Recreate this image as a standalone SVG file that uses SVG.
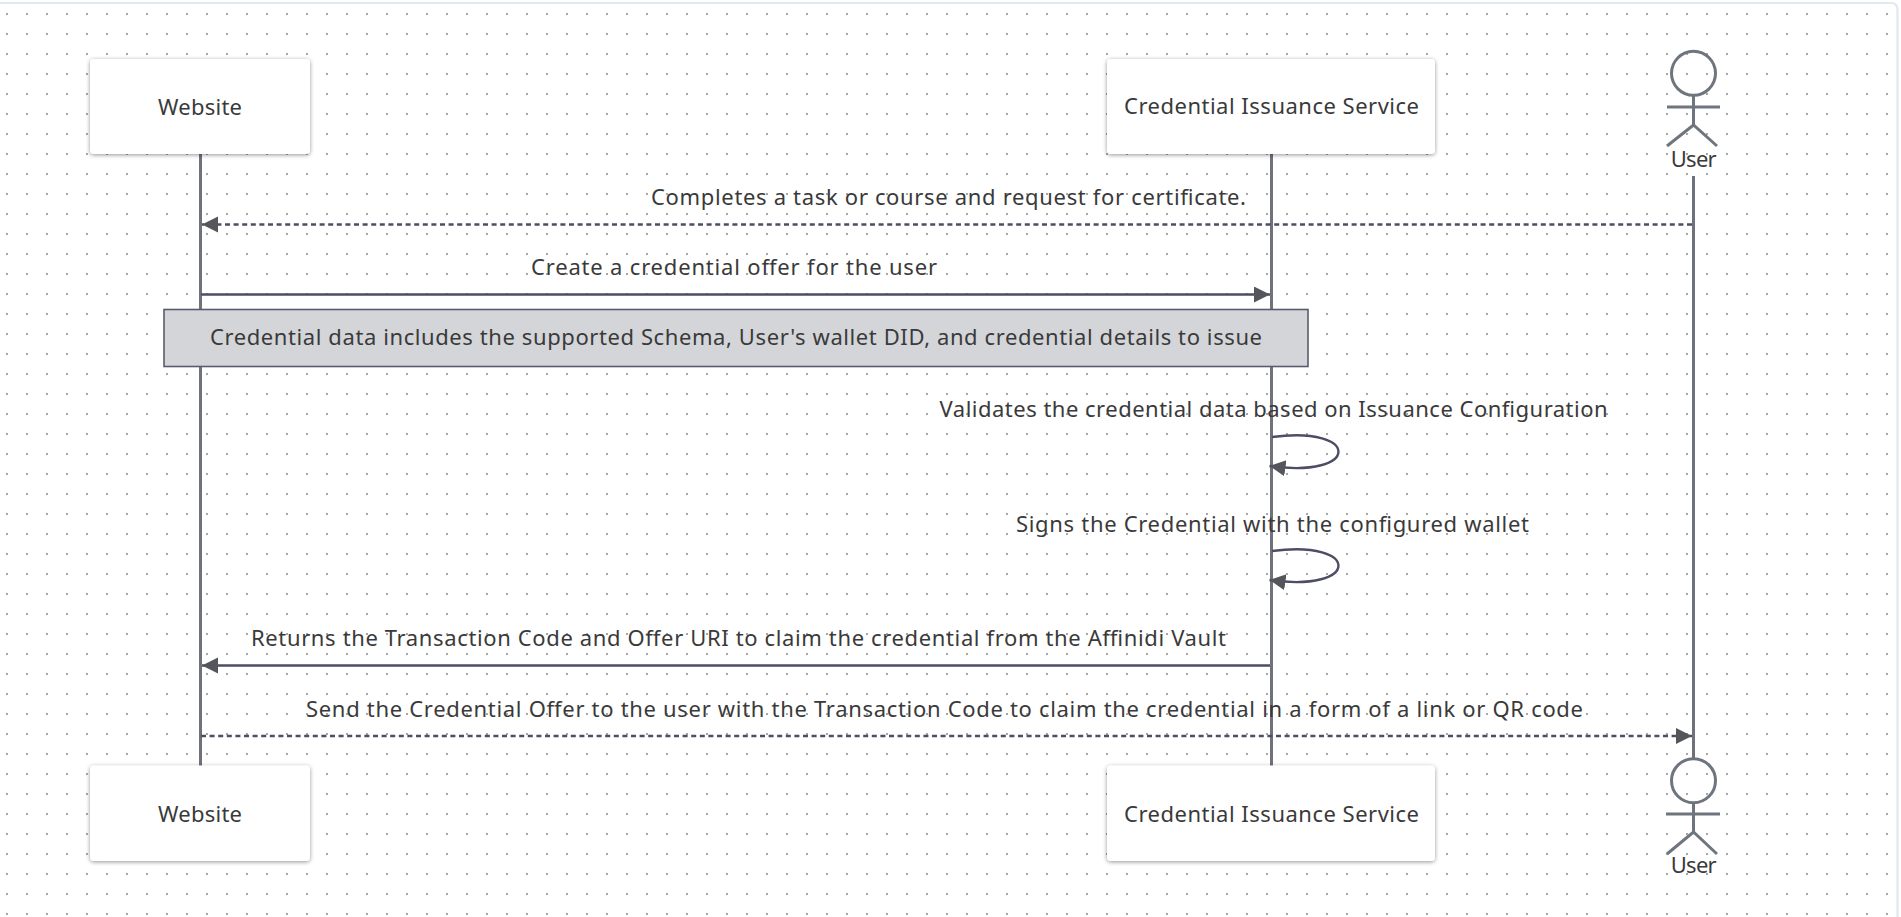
<svg xmlns="http://www.w3.org/2000/svg" width="1901" height="917" viewBox="0 0 1901 917">
<style>
text{font-family:"Noto Sans",sans-serif;fill:#3a3a3a;font-size:22px;text-anchor:middle}
.life{stroke:#6f727d;stroke-width:3;fill:none}
.msg{stroke:#4d4d66;stroke-width:2.4;fill:none}
.dash{stroke-dasharray:5 3.6}
.box{fill:#fff;filter:url(#sh)}
.fig{stroke:#6f757e;stroke-width:3;fill:none}
</style>
<defs>
<pattern id="dots" width="20" height="20" patternUnits="userSpaceOnUse" x="-3" y="4"><circle cx="10" cy="10" r="0.95" fill="#808080"/></pattern>
<filter id="sh" x="-10%" y="-10%" width="120%" height="120%"><feDropShadow dx="0" dy="1" stdDeviation="2.2" flood-color="#000" flood-opacity=".42"/></filter>
<marker id="arr" markerUnits="userSpaceOnUse" markerWidth="18" markerHeight="18" refX="16" refY="8" orient="auto"><path d="M0 0L16 8L0 16Z" fill="#55565c"/></marker>
</defs>
<rect width="1901" height="917" fill="#fff"/>
<rect x="0" y="0" width="1901" height="917" fill="url(#dots)"/>
<path d="M0 3H1891Q1897.5 3 1897.5 10V917" fill="none" stroke="#e2e8f0" stroke-width="2.2"/>
<g id="lifelines">
<path class="life" d="M200.5 154V766M1271.5 154V766M1693.5 176V758"/>
</g>
<g id="note"><rect x="164" y="309.5" width="1144" height="57" fill="#d4d5d9" stroke="#5a5b70" stroke-width="1.6"/><text x="736" y="344.800" textLength="1052">Credential data includes the supported Schema, User's wallet DID, and credential details to issue</text></g>
<g id="connectors">
<path class="msg dash" marker-end="url(#arr)" d="M1692 224.5H202"/>
<path class="msg" marker-end="url(#arr)" d="M201 294.5H1270"/>
<path class="msg" marker-end="url(#arr)" d="M1272 437C1361 425 1361 479 1269.5 466"/>
<path class="msg" marker-end="url(#arr)" d="M1272 551C1361 539 1361 593 1269.5 580"/>
<path class="msg" marker-end="url(#arr)" d="M1270 665.5H202"/>
<path class="msg dash" marker-end="url(#arr)" d="M201 736H1692"/>
</g>
<g id="labels">
<text x="948.5" y="204.800" textLength="595">Completes a task or course and request for certificate.</text>
<text x="734" y="274.800" textLength="406">Create a credential offer for the user</text>
<text x="1273.6" y="416.800" textLength="668">Validates the credential data based on Issuance Configuration</text>
<text x="1272.500" y="531.500" textLength="513">Signs the Credential with the configured wallet</text>
<text x="738.500" y="646" textLength="975">Returns the Transaction Code and Offer URI to claim the credential from the Affinidi Vault</text>
<text x="944.500" y="716.800" textLength="1277">Send the Credential Offer to the user with the Transaction Code to claim the credential in a form of a link or QR code</text>
</g>
<g id="website-top"><rect class="box" x="90" y="59" width="220" height="95" rx="4"/><text x="200" y="114.500" textLength="84">Website</text></g>
<g id="service-top"><rect class="box" x="1107" y="59" width="328" height="95" rx="4"/><text x="1271.5" y="114" textLength="295">Credential Issuance Service</text></g>
<g id="user-top"><circle class="fig" cx="1693.5" cy="73.3" r="22"/><path class="fig" d="M1693.5 95V125M1667 107H1720M1667 146L1693.5 125L1717 146"/><text x="1693.7" y="166.500" textLength="46">User</text></g>
<g id="website-bottom"><rect class="box" x="90" y="765.500" width="220" height="95.500" rx="4"/><text x="200" y="822" textLength="84">Website</text></g>
<g id="service-bottom"><rect class="box" x="1107" y="765.500" width="328" height="95.500" rx="4"/><text x="1271.5" y="822" textLength="295">Credential Issuance Service</text></g>
<g id="user-bottom"><circle class="fig" cx="1693.5" cy="780.7" r="22"/><path class="fig" d="M1693.5 803V832M1666 814H1720M1667 854L1693.5 832L1717 854"/><text x="1693.7" y="872.500" textLength="46">User</text></g>
</svg>
